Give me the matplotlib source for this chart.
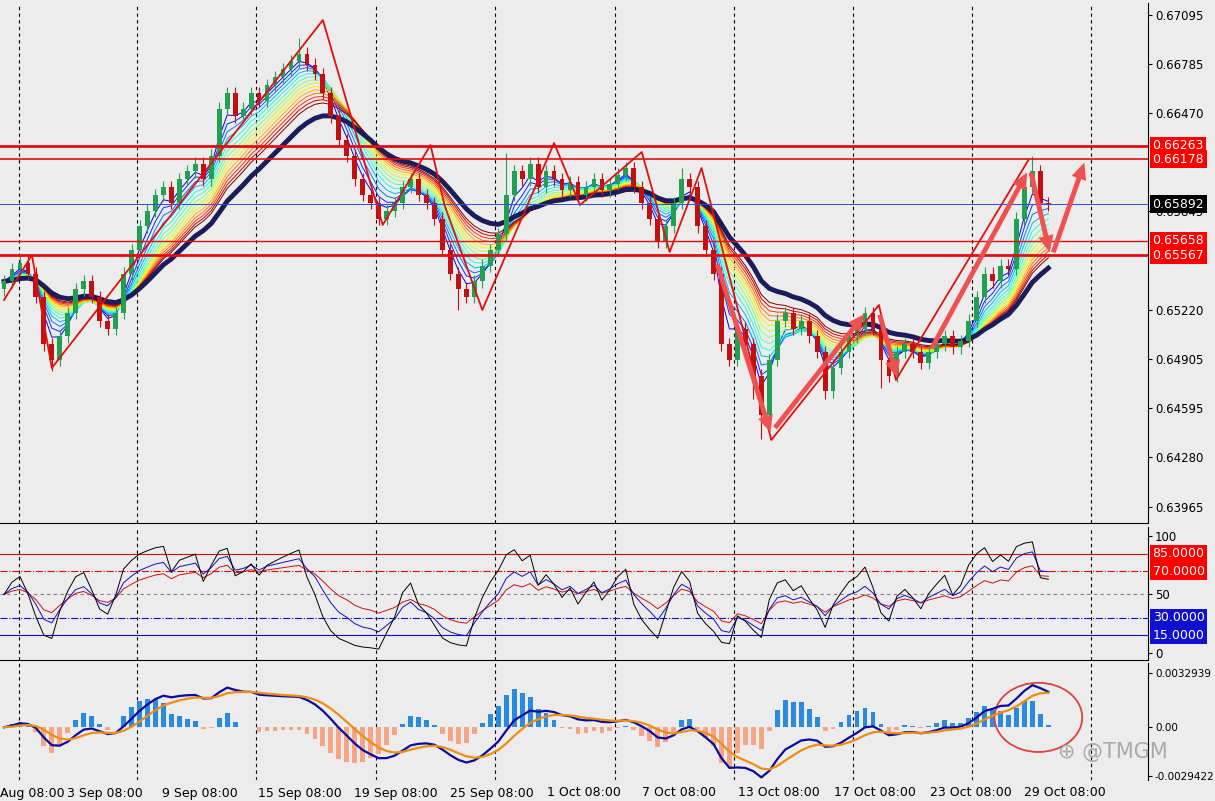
import numpy as np
import matplotlib
matplotlib.use("Agg")
import matplotlib.pyplot as plt
from matplotlib.patches import Ellipse

closes = [0.6540,0.6548,0.6552,0.6545,0.6530,0.6500,0.6490,0.6505,0.6520,0.6535,
          0.6540,0.6530,0.6515,0.6510,0.6520,0.6545,0.6560,0.6575,0.6585,0.6595,
          0.6600,0.6590,0.6605,0.6610,0.6615,0.6605,0.6620,0.6650,0.6660,0.6645,
          0.6650,0.6660,0.6655,0.6665,0.6670,0.6675,0.6680,0.6685,0.6678,0.6672,
          0.6660,0.6645,0.6630,0.6620,0.6605,0.6595,0.6590,0.6580,0.6585,0.6590,
          0.6600,0.6605,0.6595,0.6590,0.6580,0.6560,0.6545,0.6535,0.6530,0.6540,
          0.6550,0.6560,0.6570,0.6595,0.6610,0.6605,0.6615,0.6600,0.6610,0.6605,
          0.6598,0.6603,0.6595,0.6600,0.6605,0.6598,0.6602,0.6608,0.6612,0.6600,
          0.6590,0.6580,0.6565,0.6575,0.6590,0.6605,0.6600,0.6575,0.6560,0.6545,
          0.6500,0.6490,0.6510,0.6500,0.6480,0.6455,0.6490,0.6515,0.6520,0.6510,
          0.6515,0.6505,0.6495,0.6470,0.6485,0.6495,0.6505,0.6510,0.6520,0.6510,
          0.6490,0.6480,0.6495,0.6500,0.6495,0.6488,0.6495,0.6500,0.6505,0.6498,
          0.6502,0.6515,0.6530,0.6545,0.6540,0.6550,0.6548,0.6580,0.6600,0.6610,
          0.6590,0.6589]
first_open = 0.6535
low_extremes = {6: 0.6483, 57: 0.6522, 94: 0.6465, 95: 0.6440, 103: 0.6465, 110: 0.6472}
high_extremes = {37: 0.6695, 63: 0.6622, 85: 0.6612, 129: 0.6620}

price_ticks = [0.67095,0.66785,0.66470,0.65845,0.65220,0.64905,0.64595,0.64280,0.63965]
level_lines = [(0.66263,2.0,'0.66263'),(0.66178,1.2,'0.66178'),(0.65658,1.0,'0.65658'),(0.65567,2.0,'0.65567')]
current_price = 0.65892

date_labels = ["Aug 08:00","3 Sep 08:00","9 Sep 08:00","15 Sep 08:00","19 Sep 08:00","25 Sep 08:00",
               "1 Oct 08:00","7 Oct 08:00","13 Oct 08:00","17 Oct 08:00","23 Oct 08:00","29 Oct 08:00"]
label_px = [0,67,162,258,354,450,547,642,738,834,930,1024]
grid_px = [15,133,253,373,493,613,733,852,971,1091]

zigzag_px = [(0,300),(28,255),(48,368),(320,20),(380,225),(428,145),(442,205),(480,310),(552,143),
             (578,205),(640,152),(668,252),(700,168),(770,440),(878,305),(895,380),(1028,160)]
arrows_px = [((715,262),(770,435)),((772,430),(865,312)),((878,312),(897,380)),
             ((930,350),(1028,170)),((1030,170),(1050,255)),((1052,255),(1085,160))]

W, H = 1215, 801
PX = 8.0
def px2i(x): return x / PX
def py2p(y): return 0.67095 - (y - 15) * (0.0313 / 492)

c = np.array(closes)
o = np.concatenate([[first_open], c[:-1]])
n = len(c)
idx = np.arange(n)
hi = np.maximum(o, c) + 0.0004
lo = np.minimum(o, c) - 0.0004
for k, v in low_extremes.items(): lo[k] = v
for k, v in high_extremes.items(): hi[k] = v

def ema(x, span):
    a = 2 / (span + 1); out = np.empty_like(x); out[0] = x[0]
    for t in range(1, len(x)): out[t] = a * x[t] + (1 - a) * out[t - 1]
    return out

def rsi(x, p):
    d = np.diff(x, prepend=x[0]); up = np.clip(d, 0, None); dn = np.clip(-d, 0, None)
    up[0] = dn[0] = 0.0005
    au = ema(up, 2 * p - 1); ad = ema(dn, 2 * p - 1)
    return 100 * au / (au + ad + 1e-12)

bg = '#ececec'
fig = plt.figure(figsize=(W/100, H/100), dpi=100, facecolor=bg)
xr = (0 - 0.5, px2i(1148))
axm = fig.add_axes([0, 1-523/H, 1148/W, 520/H], facecolor=bg)
axr = fig.add_axes([0, 1-660/H, 1148/W, 133/H], facecolor=bg)
axd = fig.add_axes([0, 1-780/H, 1148/W, 117/H], facecolor=bg)
for ax in (axm, axr, axd):
    ax.set_xlim(*xr)
    for g in grid_px:
        ax.axvline(px2i(g), color='black', ls=(0, (3, 3)), lw=0.8, zorder=0)
    ax.yaxis.tick_right()
    ax.tick_params(axis='y', labelsize=8.5, length=3, pad=2)
    ax.set_xticks([])
    for s in ('left', 'top', 'bottom'): ax.spines[s].set_visible(False)
    ax.spines['right'].set_color('black')
axm.spines['bottom'].set_visible(True); axr.spines['bottom'].set_visible(True)

# main
axm.set_ylim(py2p(523), py2p(3))
axm.set_yticks(price_ticks); axm.set_yticklabels([f'{t:.5f}' for t in price_ticks])
cmap = plt.get_cmap('jet')
spans = [3,4,5,6,7,8,9,10,11,12,13,14,15,16]
for j, s in enumerate(spans):
    axm.plot(idx, ema(c, s), color=cmap(0.1 + 0.9 * j / (len(spans) - 1)), lw=0.7, zorder=2)
axm.plot(idx, ema(c, 20), color='#1c1c5c', lw=3.5, zorder=3)
for i in range(n):
    col = '#20a050' if c[i] >= o[i] else '#c01010'
    axm.vlines(i, lo[i], hi[i], color=col, lw=0.8, zorder=4)
    axm.bar(i, max(abs(c[i]-o[i]), 0.00003), bottom=min(o[i], c[i]), width=0.6, color=col, zorder=5)
zx = [px2i(p[0]) for p in zigzag_px]; zy = [py2p(p[1]) for p in zigzag_px]
axm.plot(zx, zy, color='#e01010', lw=1.3, zorder=6)
for (a, b) in arrows_px:
    axm.annotate('', xy=(px2i(b[0]), py2p(b[1])), xytext=(px2i(a[0]), py2p(a[1])),
                 arrowprops=dict(arrowstyle='simple,head_width=1.1,head_length=1.2,tail_width=0.35',
                                 color='#f05050', lw=0), zorder=7)
for v, lw, t in level_lines:
    axm.axhline(v, color='#e01010', lw=lw, zorder=6)
    axm.text(1.004, v, t, transform=axm.get_yaxis_transform(), color='white', fontsize=9, va='center',
             ha='left', bbox=dict(boxstyle='square,pad=0.2', fc='#ff0000', ec='none'))
axm.axhline(current_price, color='#3050d0', lw=0.7, zorder=6)
axm.text(1.004, current_price, f'{current_price:.5f}', transform=axm.get_yaxis_transform(), color='white',
         fontsize=9, va='center', ha='left', bbox=dict(boxstyle='square,pad=0.2', fc='black', ec='none'))

# RSI
axr.set_ylim(-6, 107.7)
axr.set_yticks([100, 50, 0]); axr.set_yticklabels(['100', '50', '0'])
axr.axhline(85, color='#d01010', lw=0.8); axr.axhline(70, color='#d01010', lw=0.8, ls='-.')
axr.axhline(50, color='gray', lw=0.8, ls=(0, (3, 3)))
axr.axhline(30, color='#1010c0', lw=0.8, ls='-.'); axr.axhline(15, color='#1010c0', lw=0.8)
axr.plot(idx, rsi(c, 14), color='#d01010', lw=0.7)
axr.plot(idx, rsi(c, 8), color='#1010c0', lw=0.7)
axr.plot(idx, rsi(c, 4), color='black', lw=0.7)
for v, fc in [(85, '#ff0000'), (70, '#ff0000'), (30, '#1010d0'), (15, '#1010d0')]:
    axr.text(1.004, v, f'{v:.4f}', transform=axr.get_yaxis_transform(), color='white', fontsize=9,
             va='center', ha='left', bbox=dict(boxstyle='square,pad=0.2', fc=fc, ec='none'))

# MACD
macd = ema(c, 6) - ema(c, 13)
sig = ema(macd, 5)
hist = (macd - sig) * 2.5
axd.set_ylim(-0.0032, 0.0039)
axd.set_yticks([0.0032939, 0.0, -0.0029422]); axd.set_yticklabels(['0.0032939', '0.00', '-0.0029422'])
axd.tick_params(axis='y', labelsize=7.5)
axd.bar(idx, hist, width=0.6, color=np.where(hist >= 0, '#2a8ae0', '#f5a585'))
axd.plot(idx, macd, color='#0a0aa0', lw=1.6)
axd.plot(idx, sig, color='#f08c10', lw=1.6)
axd.add_patch(Ellipse((px2i(1038), 0.0006), px2i(88), 0.0042, fill=False, ec='#e04040', lw=1.3))
fig.text(1058/W, 1 - 752/H, '⊕ @TMGM', fontsize=15, color='#aaaaaa', va='center')

for t, x in zip(date_labels, label_px):
    fig.text(x / W, 1 - 793/H, t, fontsize=9, va='center', ha='left')

fig.savefig('out.png', dpi=100, facecolor=bg)
